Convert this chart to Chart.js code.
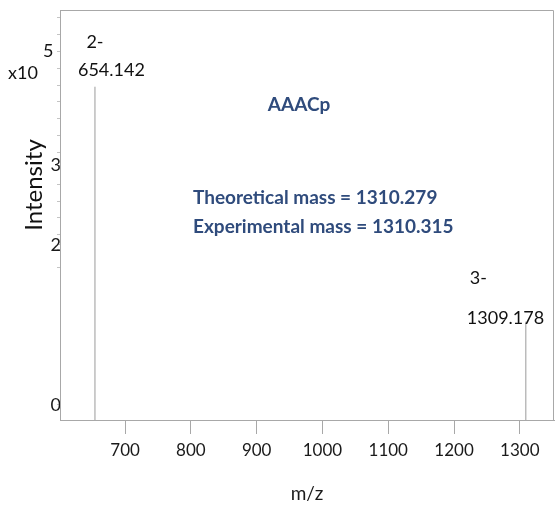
<!DOCTYPE html>
<html><head><meta charset="utf-8">
<script src="https://cdn.jsdelivr.net/npm/chart.js@4"></script>
<style>html,body{margin:0;padding:0;background:#fff}</style>
</head><body>
<canvas id="c" width="555" height="506" style="width:555px;height:506px;display:block"></canvas>
<script>
// ---- data ----
const peakMz = [654.142, 1309.178];
const peakIntensity = [3.98, 1.04];          // x10^5
const peakCharge = ['2-', '3-'];
const peakMzLabels = ['654.142', '1309.178'];
const xTickValues = [700, 800, 900, 1000, 1100, 1200, 1300];
const yTickValues = [0, 2, 3];
const yTickLabels = ['0', '2', '3'];
const yMinorTicks = [1.72, 1.94, 2.13, 2.34, 2.55, 2.76, 3.16, 3.37, 3.58, 3.79, 4.00, 4.21, 4.42, 4.63, 4.85];
const compoundName = 'AAACp';
const massLines = ['Theoretical mass = 1310.279', 'Experimental mass = 1310.315'];
const xTitle = 'm/z';
const yTitle = 'Intensity';
const yExponentBase = 'x10';
const yExponent = '5';

const X_MIN = 601, X_MAX = 1352, Y_MIN = -0.19, Y_MAX = 4.94;
const GREY = '#a8a8a8';
const BLUE = '#2f4b7c';
const FONT = 'Lato';

const datasets = peakMz.map((m, i) => ({
  data: [{x: m, y: Y_MIN}, {x: m, y: peakIntensity[i]}],
  borderColor: '#9a9a9a', borderWidth: 1, pointRadius: 0, fill: false, tension: 0
}));

const textPlugin = {
  id: 'texts',
  afterDraw(chart) {
    const ctx = chart.ctx, a = chart.chartArea;
    const xs = chart.scales.x, ys = chart.scales.y;
    ctx.save();
    // frame top/right
    ctx.strokeStyle = GREY; ctx.lineWidth = 1;
    ctx.beginPath();
    ctx.moveTo(Math.round(a.left) + 0.5, Math.round(a.top) + 0.5);
    ctx.lineTo(Math.round(a.right) - 0.5, Math.round(a.top) + 0.5);
    ctx.lineTo(Math.round(a.right) - 0.5, Math.round(a.bottom));
    ctx.stroke();
    // peak labels
    ctx.fillStyle = '#111';
    ctx.font = '18px ' + FONT;
    ctx.textBaseline = 'middle';
    const offs = [
      {cx: 0, cy: -45, nx: -17, ny: -17},
      {cx: -56, cy: -44, nx: -59, ny: -4}
    ];
    peakMz.forEach((m, i) => {
      const px = xs.getPixelForValue(m), py = ys.getPixelForValue(peakIntensity[i]);
      const o = offs[i];
      ctx.textAlign = i === 0 ? 'center' : 'left';
      ctx.fillText(peakCharge[i], px + o.cx, py + o.cy);
      ctx.textAlign = 'left';
      ctx.fillText(peakMzLabels[i], px + o.nx, py + o.ny);
    });
    // exponent
    ctx.textAlign = 'left';
    ctx.font = '18px ' + FONT;
    ctx.fillText(yExponentBase, 8, 73);
    ctx.fillText(yExponent, 43, 51);
    // y title
    ctx.save();
    ctx.translate(34, 185);
    ctx.rotate(-Math.PI / 2);
    ctx.textAlign = 'center';
    ctx.font = '24px ' + FONT;
    ctx.fillText(yTitle, 0, 0);
    ctx.restore();
    // annotations
    ctx.fillStyle = BLUE;
    ctx.font = 'bold 19px ' + FONT;
    ctx.textAlign = 'center';
    ctx.fillText(compoundName, 299, 105);
    ctx.textAlign = 'left';
    ctx.fillText(massLines[0], 193, 198);
    ctx.fillText(massLines[1], 193, 227);
    ctx.restore();
  }
};

new Chart(document.getElementById('c'), {
  type: 'line',
  data: {datasets},
  options: {
    responsive: false, animation: false,
    layout: {padding: {top: 10, right: 1, left: 0, bottom: 0}},
    plugins: {legend: {display: false}, tooltip: {enabled: false}},
    scales: {
      x: {
        type: 'linear', min: X_MIN, max: X_MAX,
        afterBuildTicks(s) { s.ticks = xTickValues.map(v => ({value: v})); },
        afterFit(s) { s.height = 86; },
        grid: {drawOnChartArea: false, drawTicks: true, tickLength: 14, color: GREY},
        border: {color: GREY, width: 1},
        ticks: {autoSkip: false, maxRotation: 0, padding: 6, color: '#1a1a1a', font: {family: FONT, size: 17},
                callback: v => String(v)},
        title: {display: true, text: xTitle, color: '#1a1a1a', font: {family: FONT, size: 19}, padding: {top: 0, bottom: 1}}
      },
      y: {
        type: 'linear', min: Y_MIN, max: Y_MAX,
        afterBuildTicks(s) { s.ticks = yTickValues.concat(yMinorTicks).map(v => ({value: v})); },
        afterFit(s) { s.width = 60; },
        grid: {drawOnChartArea: false, drawTicks: true, tickLength: 3, color: '#c4c4c4'},
        border: {color: GREY, width: 1},
        ticks: {autoSkip: false, padding: -4, color: '#1a1a1a', font: {family: FONT, size: 18},
                callback: v => { const i = yTickValues.indexOf(v); return i >= 0 ? yTickLabels[i] : ''; }}
      }
    }
  },
  plugins: [textPlugin]
});
</script>
</body></html>
